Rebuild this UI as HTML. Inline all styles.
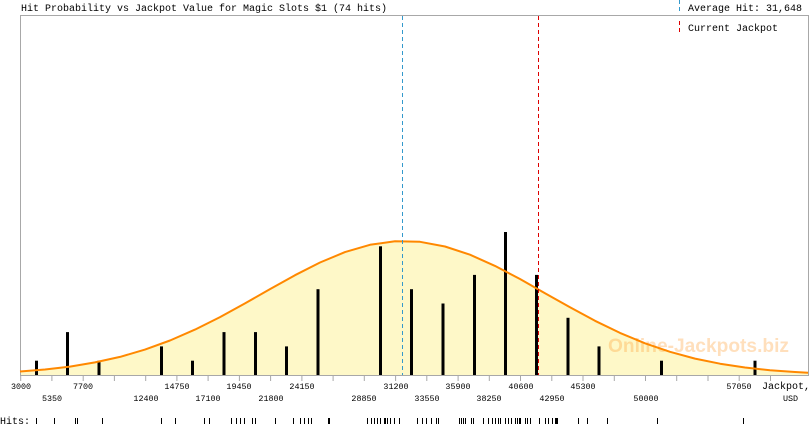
<!DOCTYPE html>
<html><head><meta charset="utf-8"><style>
html,body{margin:0;padding:0;background:#fff;}
svg{display:block;}
.m{font-family:"Liberation Mono",monospace;}
</style></head><body>
<svg width="810" height="425" viewBox="0 0 810 425" xmlns="http://www.w3.org/2000/svg">
<rect x="0" y="0" width="810" height="425" fill="#fff"/>
<!-- fill under gaussian -->
<path d="M20,375 L20,371.5 L45,369.5 L70,366.6 L95,362.4 L120,356.9 L145,349.6 L170,340.5 L195,329.6 L220,317.1 L245,303.4 L270,289.1 L295,275.2 L320,262.5 L345,252.1 L370,244.8 L395,241.3 L420,241.8 L445,246.5 L470,254.7 L495,265.9 L520,279 L545,293.2 L570,307.3 L595,320.8 L620,332.9 L645,343.3 L670,351.8 L695,358.6 L720,363.7 L745,367.5 L770,370.2 L795,372 L808,372.7 L808,375 Z" fill="#fef8c8"/>
<!-- watermark -->
<text x="608" y="352" font-family="Liberation Sans, sans-serif" font-weight="bold" font-size="19" textLength="181" lengthAdjust="spacingAndGlyphs" fill="#ff9a30" fill-opacity="0.32">Online-Jackpots.biz</text>
<!-- frame -->
<path d="M20.5,375 V15.5 H808.5 V375" fill="none" stroke="#a8a8a8" stroke-width="1"/>
<line x1="20" y1="375.5" x2="809" y2="375.5" stroke="#a8a8a8" stroke-width="1"/>
<!-- bars -->
<g fill="#000">
<rect x="35" y="360.7" width="3" height="14.3"/>
<rect x="66" y="332.1" width="3" height="42.9"/>
<rect x="97.5" y="360.7" width="3" height="14.3"/>
<rect x="160" y="346.4" width="3" height="28.6"/>
<rect x="191" y="360.7" width="3" height="14.3"/>
<rect x="222.5" y="332.1" width="3" height="42.9"/>
<rect x="254" y="332.1" width="3" height="42.9"/>
<rect x="285" y="346.4" width="3" height="28.6"/>
<rect x="316.5" y="289.2" width="3" height="85.8"/>
<rect x="379" y="246.3" width="3" height="128.7"/>
<rect x="410" y="289.2" width="3" height="85.8"/>
<rect x="441.5" y="303.5" width="3" height="71.5"/>
<rect x="473" y="274.9" width="3" height="100.1"/>
<rect x="504" y="232" width="3" height="143"/>
<rect x="535" y="274.9" width="3" height="100.1"/>
<rect x="566.5" y="317.8" width="3" height="57.2"/>
<rect x="597.5" y="346.4" width="3" height="28.6"/>
<rect x="660" y="360.7" width="3" height="14.3"/>
<rect x="753.5" y="360.7" width="3" height="14.3"/>
</g>
<!-- curve -->
<polyline points="20,371.5 45,369.5 70,366.6 95,362.4 120,356.9 145,349.6 170,340.5 195,329.6 220,317.1 245,303.4 270,289.1 295,275.2 320,262.5 345,252.1 370,244.8 395,241.3 420,241.8 445,246.5 470,254.7 495,265.9 520,279 545,293.2 570,307.3 595,320.8 620,332.9 645,343.3 670,351.8 695,358.6 720,363.7 745,367.5 770,370.2 795,372 808,372.7" fill="none" stroke="#ff8800" stroke-width="2" stroke-linejoin="round"/>
<!-- average / current lines -->
<line x1="402.5" y1="16" x2="402.5" y2="375" stroke="#3399cc" stroke-width="1" stroke-dasharray="4,3"/>
<line x1="538.5" y1="16" x2="538.5" y2="375" stroke="#dd0000" stroke-width="1" stroke-dasharray="4,3"/>
<!-- legend -->
<line x1="679.5" y1="0" x2="679.5" y2="12" stroke="#3399cc" stroke-width="1" stroke-dasharray="4,3"/>
<line x1="679.5" y1="21" x2="679.5" y2="34" stroke="#dd0000" stroke-width="1" stroke-dasharray="4,3"/>
<text class="m" x="688" y="11" font-size="10" fill="#000">Average Hit: 31,648</text>
<text class="m" x="688" y="31" font-size="10" fill="#000">Current Jackpot</text>
<!-- title -->
<text class="m" x="21" y="11" font-size="10" fill="#000">Hit Probability vs Jackpot Value for Magic Slots $1 (74 hits)</text>
<!-- x ticks -->
<path d="M20.7,375V381 M51.9,375V381 M83.2,375V381 M114.4,375V381 M145.7,375V381 M176.9,375V381 M208.1,375V381 M239.4,375V381 M270.6,375V381 M301.9,375V381 M333.1,375V381 M364.3,375V381 M395.6,375V381 M426.8,375V381 M458.1,375V381 M489.3,375V381 M520.5,375V381 M551.8,375V381 M583,375V381 M614.3,375V381 M645.5,375V381 M676.7,375V381 M708,375V381 M739.2,375V381 M770.5,375V381" stroke="#a8a8a8" stroke-width="1"/>
<g class="m" font-size="8.4" fill="#000" text-anchor="middle">
<text x="21" y="389">3000</text>
<text x="83" y="389">7700</text>
<text x="177" y="389">14750</text>
<text x="239" y="389">19450</text>
<text x="302" y="389">24150</text>
<text x="396" y="389">31200</text>
<text x="458" y="389">35900</text>
<text x="521" y="389">40600</text>
<text x="583" y="389">45300</text>
<text x="739" y="389">57050</text>
<text x="52" y="401">5350</text>
<text x="146" y="401">12400</text>
<text x="208" y="401">17100</text>
<text x="271" y="401">21800</text>
<text x="364" y="401">28850</text>
<text x="427" y="401">33550</text>
<text x="489" y="401">38250</text>
<text x="552" y="401">42950</text>
<text x="646" y="401">50000</text>
</g>
<text class="m" x="762" y="389" font-size="10" fill="#000">Jackpot,</text>
<text class="m" x="783" y="401" font-size="8.4" fill="#000">USD</text>
<!-- hits rug -->
<text class="m" x="0" y="424" font-size="10" fill="#000">Hits:</text>
<path d="M36.5,418V424 M54.5,418V424 M75.5,418V424 M77.5,418V424 M102.5,418V424 M161.5,418V424 M175.5,418V424 M204.5,418V424 M209.5,418V424 M231.5,418V424 M236.5,418V424 M240.5,418V424 M244.5,418V424 M252.5,418V424 M255.5,418V424 M275.5,418V424 M293.5,418V424 M300.5,418V424 M304.5,418V424 M308.5,418V424 M311.5,418V424 M328.5,418V424 M329.5,418V424 M367.5,418V424 M371.5,418V424 M374.5,418V424 M377.5,418V424 M380.5,418V424 M384.5,418V424 M385.5,418V424 M387.5,418V424 M390.5,418V424 M394.5,418V424 M399.5,418V424 M417.5,418V424 M422.5,418V424 M426.5,418V424 M431.5,418V424 M436.5,418V424 M438.5,418V424 M459.5,418V424 M461.5,418V424 M463.5,418V424 M465.5,418V424 M471.5,418V424 M473.5,418V424 M483.5,418V424 M488.5,418V424 M492.5,418V424 M495.5,418V424 M498.5,418V424 M500.5,418V424 M505.5,418V424 M508.5,418V424 M511.5,418V424 M515.5,418V424 M517.5,418V424 M519.5,418V424 M520.5,418V424 M525.5,418V424 M527.5,418V424 M530.5,418V424 M539.5,418V424 M545.5,418V424 M548.5,418V424 M552.5,418V424 M555.5,418V424 M556.5,418V424 M557.5,418V424 M578.5,418V424 M587.5,418V424 M607.5,418V424 M657.5,418V424 M743.5,418V424" stroke="#000" stroke-width="1"/>
</svg>
</body></html>
